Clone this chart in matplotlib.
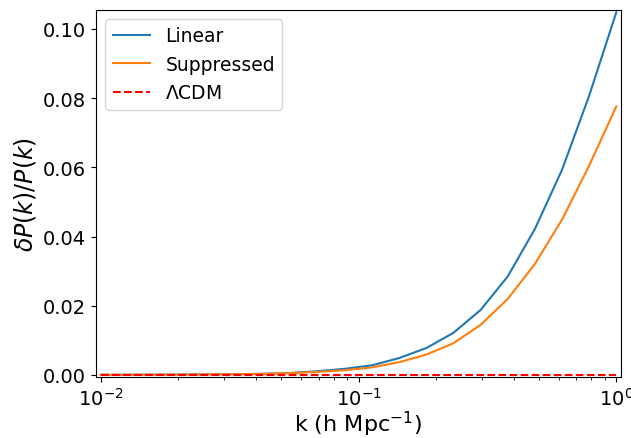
import numpy as np
import matplotlib.pyplot as plt

k = np.logspace(-2, 0, 20)
linear = [0.00005, 0.00007, 0.0001, 0.00013, 0.00018, 0.00025, 0.00035, 0.0006,
          0.0011, 0.0018, 0.0028, 0.0049, 0.0078, 0.0122, 0.0188, 0.0285,
          0.0422, 0.0593, 0.0807, 0.1048]
suppressed = [0.00005, 0.00007, 0.0001, 0.00013, 0.00018, 0.00024, 0.00033, 0.00055,
              0.0009, 0.0014, 0.0022, 0.0037, 0.0059, 0.0092, 0.0145, 0.0220,
              0.0321, 0.0449, 0.0605, 0.0776]
lcdm = np.zeros(len(k))

fig = plt.figure(figsize=(6.31, 4.39), dpi=100)
ax = fig.add_axes([0.152, 0.138, 0.832, 0.838])
ax.plot(k, linear, label='Linear')
ax.plot(k, suppressed, label='Suppressed')
ax.plot(k, lcdm, 'r--', label=r'$\Lambda$CDM')
ax.set_xscale('log')
ax.set_xlim(0.00957, 1.042)
ax.set_ylim(-0.0007, 0.1056)
ax.set_yticks([0, 0.02, 0.04, 0.06, 0.08, 0.10])
ax.set_xlabel(r'k (h Mpc$^{-1}$)', fontsize=16, labelpad=0)
ax.set_ylabel(r'$\delta P(k)/P(k)$', fontsize=17)
ax.tick_params(labelsize=14)
ax.legend(fontsize=13.5, loc='upper left')
fig.savefig('out.png', dpi=100)
